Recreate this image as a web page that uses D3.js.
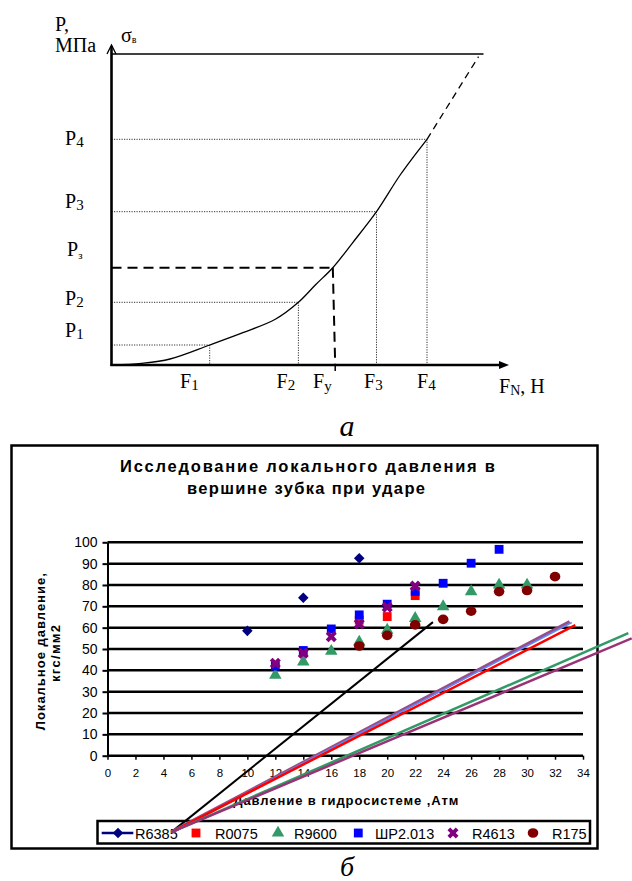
<!DOCTYPE html>
<html><head><meta charset="utf-8">
<script src="https://cdn.jsdelivr.net/npm/d3@7"></script>
<style>html,body{margin:0;padding:0;background:#fff;} svg{display:block}</style>
</head><body>
<script>
// ---------- data: schematic (a) ----------
const curveF = [0, 30.2, 58.5, 98.2, 131.4, 163.8, 186.9, 204.3, 221.3, 240.7, 265, 289, 315.5];
const curveP = [0, 1.7, 6, 20, 32.3, 45.7, 62.7, 80.5, 97.3, 121.7, 153.3, 190.5, 225.7];
const extF = [315.5, 367];
const extP = [225.7, 308.3];
const levelSub = ["1", "2", "3", "4"];
const levelP = [20, 62.7, 153.3, 225.7];
const levelF = [98.2, 186.9, 265, 315.5];
const yieldP = 97.3;
const yieldF = [221.3, 223.7];
const sigmaB = 311;
const axisEndF = 397.5, axisEndP = 320, sigmaLineEndF = 372;

// ---------- data: chart (б) ----------
const xTicks = d3.range(0, 35, 2);
const yTicks = d3.range(0, 101, 10);
const seriesNames = ["R6385", "R0075", "R9600", "ШР2.013", "R4613", "R175"];
const seriesColors = ["#000080", "#ff0000", "#339966", "#0000ff", "#800080", "#800000"];
const r6385X = [10, 14, 18], r6385Y = [58.5, 74, 92.5];
const r0075X = [18, 20, 22], r0075Y = [63.5, 65.2, 75];
const r9600X = [12, 14, 16, 18, 20, 22, 24, 26, 28, 30], r9600Y = [37.8, 44, 49, 53.3, 58.9, 64.4, 69.9, 76.9, 80, 80];
const shrX = [12, 14, 16, 18, 20, 22, 24, 26, 28], shrY = [42, 49.3, 59.4, 66, 71, 77, 80.8, 90.2, 96.7];
const r4613X = [12, 14, 16, 18, 20, 22], r4613Y = [43.3, 48, 55.8, 61.7, 69.6, 79.5];
const r175X = [18, 20, 22, 24, 26, 28, 30, 32], r175Y = [51.4, 56.4, 61.3, 63.9, 67.7, 76.9, 77.4, 83.9];
const trendStartX = 4.57, trendStartY = -35.8;
const trendEndX = [23.27, 33.05, 33.2, 33.45, 37.24, 37.48];
const trendEndY = [62.6, 62.8, 62.4, 61.2, 57.4, 55.0];
const trendColors = ["#000000", "#994d88", "#5b8cff", "#ff0000", "#339966", "#993377"];
const trendWidths = [2, 3.5, 1.5, 2.5, 2.5, 2.5];

const svg = d3.select("body").append("svg").attr("width", 632).attr("height", 881);
const serif = "'Liberation Serif','Times New Roman',serif";
const sans = "'Liberation Sans',Arial,sans-serif";

// ================= schematic (a) =================
const tx = d3.scaleLinear().domain([0, 400]).range([111.5, 511.5]);
const ty = d3.scaleLinear().domain([0, 320]).range([365, 45]);
const topG = svg.append("g");

levelP.forEach((p, i) => {
  topG.append("line").attr("x1", tx(0)).attr("x2", tx(levelF[i])).attr("y1", ty(p)).attr("y2", ty(p))
    .attr("stroke", "#333").attr("stroke-width", 1).attr("stroke-dasharray", "1.2,1.3");
  topG.append("line").attr("x1", tx(levelF[i])).attr("x2", tx(levelF[i])).attr("y1", ty(p)).attr("y2", ty(0))
    .attr("stroke", "#333").attr("stroke-width", 1).attr("stroke-dasharray", "1.2,1.3");
});
topG.append("line").attr("x1", tx(0)).attr("x2", tx(yieldF[0])).attr("y1", ty(yieldP)).attr("y2", ty(yieldP))
  .attr("stroke", "#000").attr("stroke-width", 2).attr("stroke-dasharray", "10,6");
topG.append("line").attr("x1", tx(yieldF[0])).attr("x2", tx(yieldF[1])).attr("y1", ty(yieldP)).attr("y2", ty(0))
  .attr("stroke", "#000").attr("stroke-width", 2).attr("stroke-dasharray", "10,6");
topG.append("line").attr("x1", tx(yieldF[1])).attr("x2", tx(yieldF[1])).attr("y1", ty(0)).attr("y2", ty(0) + 6)
  .attr("stroke", "#000").attr("stroke-width", 1.5);
topG.append("line").attr("x1", tx(0)).attr("x2", tx(sigmaLineEndF)).attr("y1", ty(sigmaB)).attr("y2", ty(sigmaB))
  .attr("stroke", "#000").attr("stroke-width", 1.3);
const curvePts = curveF.map((f, i) => [tx(f), ty(curveP[i])]);
topG.append("path").attr("d", d3.line().curve(d3.curveCatmullRom.alpha(0.5))(curvePts))
  .attr("fill", "none").attr("stroke", "#000").attr("stroke-width", 1.3);
topG.append("path").attr("d", d3.line()(extF.map((f, i) => [tx(f), ty(extP[i])])))
  .attr("fill", "none").attr("stroke", "#000").attr("stroke-width", 1.3).attr("stroke-dasharray", "7,5");
topG.append("line").attr("x1", tx(0)).attr("x2", tx(0)).attr("y1", ty(0) + 1).attr("y2", ty(axisEndP) + 1)
  .attr("stroke", "#000").attr("stroke-width", 2.6);
topG.append("path").attr("d", `M${tx(0) - 4.5},${ty(axisEndP) + 9} L${tx(0)},${ty(axisEndP)} L${tx(0) + 4.5},${ty(axisEndP) + 9}`)
  .attr("fill", "none").attr("stroke", "#000").attr("stroke-width", 1.3);
topG.append("line").attr("x1", tx(0) - 1).attr("x2", tx(axisEndF) - 8).attr("y1", ty(0)).attr("y2", ty(0))
  .attr("stroke", "#000").attr("stroke-width", 2.6);
topG.append("path").attr("d", `M${tx(axisEndF) - 10},${ty(0) - 4} L${tx(axisEndF)},${ty(0)} L${tx(axisEndF) - 10},${ty(0) + 4} Z`)
  .attr("fill", "#000");

function lab(g, xp, yp, main, sub, opts = {}) {
  const t = g.append("text").attr("x", xp).attr("y", yp).attr("font-family", serif)
    .attr("font-size", opts.size || 20).attr("fill", "#000");
  t.append("tspan").text(main);
  if (sub) t.append("tspan").attr("font-size", opts.subSize || 15).attr("dy", opts.dy || 2).text(sub);
  if (opts.after) t.append("tspan").attr("dy", -(opts.dy || 2)).text(opts.after);
  return t;
}
lab(topG, 55, 31, "P,", null);
lab(topG, 55, 52, "МПа", null);
lab(topG, 121, 42, "σ", "в", { size: 20, subSize: 10, dy: 1 });
lab(topG, 65, 145, "P", levelSub[3]);
lab(topG, 65, 208, "P", levelSub[2]);
lab(topG, 67, 256, "P", "з", { subSize: 11, dy: 3 });
lab(topG, 65, 305, "P", levelSub[1]);
lab(topG, 65, 337, "P", levelSub[0]);
lab(topG, 180, 388, "F", levelSub[0]);
lab(topG, 276.5, 388, "F", levelSub[1]);
lab(topG, 313, 388, "F", "y", { dy: 3 });
lab(topG, 364, 388, "F", levelSub[2]);
lab(topG, 417, 388, "F", levelSub[3]);
lab(topG, 499, 393, "F", "N", { subSize: 14, dy: 2, after: ", H" });
topG.append("text").attr("x", 347).attr("y", 436).attr("text-anchor", "middle")
  .attr("font-family", serif).attr("font-style", "italic").attr("font-size", 30).text("a");

// ================= chart (б) =================
const x = d3.scaleLinear().domain([0, 34]).range([107.5, 583]);
const y = d3.scaleLinear().domain([0, 100]).range([755.7, 542.3]);
const ch = svg.append("g");

ch.append("rect").attr("x", 11.5).attr("y", 445.5).attr("width", 586).attr("height", 403)
  .attr("fill", "#fff").attr("stroke", "#000").attr("stroke-width", 2.5);

ch.append("text").attr("x", 307.5).attr("y", 472).attr("text-anchor", "middle").attr("font-family", sans)
  .attr("font-weight", "bold").attr("font-size", 16.5).attr("textLength", 375).attr("lengthAdjust", "spacing")
  .text("Исследование локального давления  в");
ch.append("text").attr("x", 306).attr("y", 494).attr("text-anchor", "middle").attr("font-family", sans)
  .attr("font-weight", "bold").attr("font-size", 16.5).attr("textLength", 238).attr("lengthAdjust", "spacing")
  .text("вершине зубка при ударе");

const yAxis = ch.append("g").attr("transform", `translate(${x(0)},0)`)
  .call(d3.axisLeft(y).tickValues(yTicks).tickSize(5).tickSizeOuter(0).tickPadding(5));
yAxis.select(".domain").attr("stroke-width", 2);
yAxis.selectAll(".tick line").attr("stroke-width", 2);
yAxis.selectAll("text").attr("font-family", sans).attr("font-size", 14).attr("fill", "#000");

const xAxis = ch.append("g").attr("transform", `translate(0,${y(0)})`)
  .call(d3.axisBottom(x).tickValues(xTicks).tickSize(4).tickSizeOuter(0).tickPadding(9));
xAxis.select(".domain").remove();
xAxis.selectAll(".tick line").attr("stroke-width", 1.5);
xAxis.selectAll("text").attr("font-family", sans).attr("font-size", 11.5).attr("fill", "#000");

ch.append("g").selectAll("line").data(yTicks).join("line")
  .attr("x1", x(0)).attr("x2", x(34)).attr("y1", d => y(d)).attr("y2", d => y(d))
  .attr("stroke", "#000").attr("stroke-width", 2.5);

ch.append("text").attr("transform", `translate(45,651.7) rotate(-90)`).attr("text-anchor", "middle")
  .attr("font-family", sans).attr("font-weight", "bold").attr("font-size", 13)
  .attr("textLength", 157).attr("lengthAdjust", "spacing").text("Локальное давление,");
ch.append("text").attr("transform", `translate(60,653.5) rotate(-90)`).attr("text-anchor", "middle")
  .attr("font-family", sans).attr("font-weight", "bold").attr("font-size", 13)
  .attr("textLength", 57).attr("lengthAdjust", "spacing").text("кгс/мм2");
ch.append("text").attr("x", 345.8).attr("y", 805).attr("text-anchor", "middle")
  .attr("font-family", sans).attr("font-weight", "bold").attr("font-size", 13)
  .attr("textLength", 225).attr("lengthAdjust", "spacing").text("Давление в гидросистеме ,Атм");

const symDiamond = d3.symbol().type(d3.symbolSquare).size(56)();
const symSquare = d3.symbol().type(d3.symbolSquare).size(78)();
const symTri = d3.symbol().type(d3.symbolTriangle).size(68)();
const symX = d3.symbol().type(d3.symbolCross).size(76)();
const markerDefs = [
  { xs: r6385X, ys: r6385Y, path: symDiamond, rot: 45 },
  { xs: r0075X, ys: r0075Y, path: symSquare, rot: 0 },
  { xs: r9600X, ys: r9600Y, path: symTri, rot: 0 },
  { xs: shrX, ys: shrY, path: symSquare, rot: 0 },
  { xs: r4613X, ys: r4613Y, path: symX, rot: 45 },
  { xs: r175X, ys: r175Y, path: null, rot: 0 }
];
function drawMarker(g, i, cx, cy) {
  const m = markerDefs[i];
  if (m.path) {
    g.append("path").attr("d", m.path).attr("fill", seriesColors[i])
      .attr("transform", `translate(${cx},${cy}) rotate(${m.rot})`);
  } else {
    g.append("ellipse").attr("cx", cx).attr("cy", cy).attr("rx", 5.3).attr("ry", 4.8).attr("fill", seriesColors[i]);
  }
}
const mg = ch.append("g");
markerDefs.forEach((m, i) => {
  m.xs.forEach((v, j) => drawMarker(mg, i, x(v), y(m.ys[j])));
});

const legendMarkX = [118, 196, 278, 358.3, 453, 533];
const legendTextX = [135, 215, 294, 375, 472, 552];
const lg = ch.append("g");
lg.append("rect").attr("x", 97.5).attr("y", 821).attr("width", 492.5).attr("height", 22.5)
  .attr("fill", "#fff").attr("stroke", "#000").attr("stroke-width", 2.5);
lg.append("line").attr("x1", 101.7).attr("x2", 133.3).attr("y1", 833).attr("y2", 833)
  .attr("stroke", seriesColors[0]).attr("stroke-width", 2.5);
seriesNames.forEach((n, i) => {
  drawMarker(lg, i, legendMarkX[i], 833);
  lg.append("text").attr("x", legendTextX[i]).attr("y", 839).attr("font-family", sans)
    .attr("font-size", 14.5).attr("fill", "#000").text(n);
});

const tg = ch.append("g");
trendEndX.forEach((ex, i) => {
  tg.append("line").attr("x1", x(trendStartX)).attr("y1", y(trendStartY))
    .attr("x2", x(ex)).attr("y2", y(trendEndY[i]))
    .attr("stroke", trendColors[i]).attr("stroke-width", trendWidths[i]);
});

svg.append("text").attr("x", 347).attr("y", 876).attr("text-anchor", "middle")
  .attr("font-family", serif).attr("font-style", "italic").attr("font-size", 28).text("б");
</script>
</body></html>
